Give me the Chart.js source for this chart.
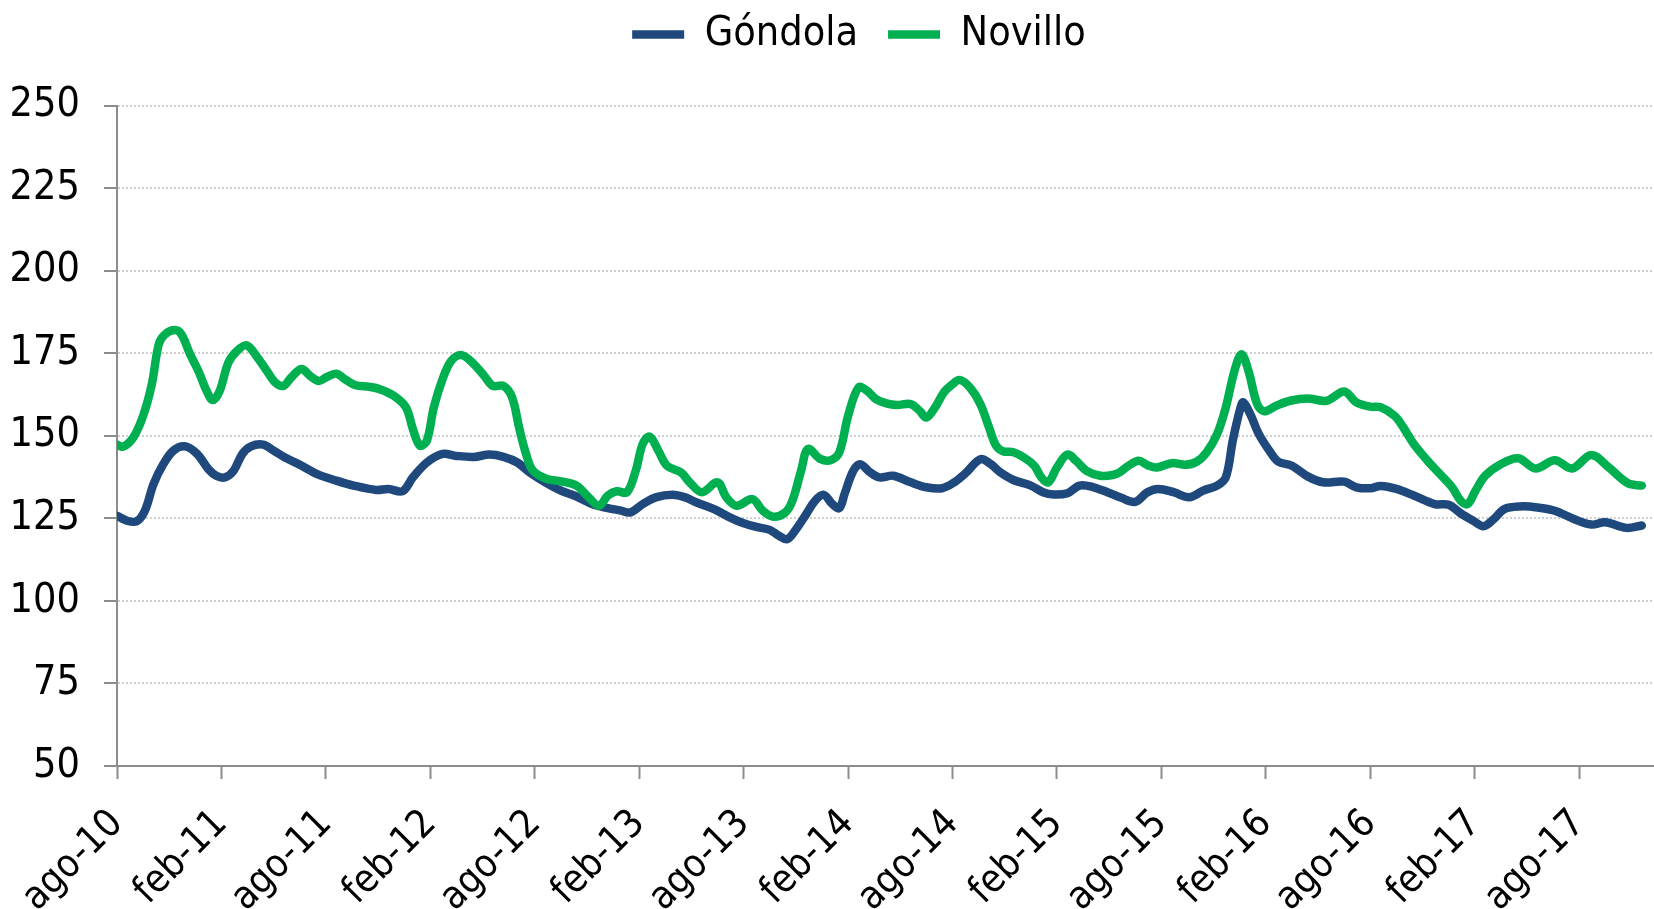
<!DOCTYPE html>
<html>
<head>
<meta charset="utf-8">
<script src="https://cdn.jsdelivr.net/npm/chart.js@4/dist/chart.umd.min.js"></script>
<style>
  html, body { margin: 0; padding: 0; background: #fff; }
  #wrap { width: 1654px; height: 909px; position: relative; }
</style>
</head>
<body>
<div id="wrap"><canvas id="chart"></canvas></div>
<script>
// meses desde ago-10 (0 = ago-10)
const gondolaMes = [0, 0.56, 1.13, 1.6, 2.1, 2.66, 3.24, 3.9, 4.6, 5.25, 5.7, 6.2, 6.7, 7.2, 7.7, 8.4, 9.0, 9.65, 10.5, 11.5, 12.6, 13.6, 14.9, 15.6, 16.4, 17.0, 17.8, 18.7, 19.5, 20.5, 21.4, 22.2, 23.0, 23.7, 24.6, 25.5, 26.4, 27.4, 28.2, 28.9, 29.5, 30.2, 31.0, 31.9, 32.6, 33.3, 34.3, 35.2, 36.0, 36.8, 37.5, 38.0, 38.5, 38.96, 39.6, 40.1, 40.6, 41.1, 41.5, 41.8, 42.3, 42.7, 43.2, 43.8, 44.6, 45.6, 46.5, 47.4, 48.1, 48.8, 49.6, 50.2, 50.7, 51.5, 52.5, 53.2, 53.8, 54.6, 55.3, 56.1, 56.9, 57.7, 58.5, 59.2, 59.8, 60.7, 61.6, 62.4, 63.2, 63.7, 64.1, 64.5, 64.7, 65.1, 65.6, 66.2, 66.7, 67.5, 68.4, 69.3, 70.5, 71.2, 72.0, 72.6, 73.5, 74.5, 75.7, 76.5, 77.2, 77.9, 78.5, 79.1, 79.7, 80.6, 81.6, 82.6, 83.7, 84.7, 85.5, 86.7, 87.6];
const gondola = [125.8, 124.3, 124.1, 127.3, 135.4, 141.4, 145.5, 146.8, 144.5, 139.9, 137.9, 137.4, 139.4, 144.5, 146.8, 147.3, 145.5, 143.4, 141.2, 138.4, 136.4, 134.9, 133.6, 133.9, 133.2, 137.4, 141.9, 144.5, 143.9, 143.6, 144.3, 143.6, 141.9, 138.9, 135.9, 133.4, 131.6, 129.1, 128.1, 127.4, 126.8, 129.3, 131.4, 132.1, 131.4, 129.8, 127.8, 125.3, 123.5, 122.3, 121.5, 119.8, 118.7, 121.3, 126.3, 130.3, 132.1, 129.3, 128.1, 132.4, 139.4, 141.4, 139.2, 137.4, 137.9, 135.9, 134.4, 134.1, 135.9, 138.9, 142.9, 141.4, 139.1, 136.6, 134.9, 132.9, 132.2, 132.6, 134.9, 134.4, 132.9, 131.2, 130.0, 132.9, 133.9, 132.9, 131.4, 133.4, 134.9, 137.4, 148.5, 157.6, 160.1, 156.6, 150.5, 145.5, 142.2, 140.9, 137.7, 135.9, 136.1, 134.4, 134.1, 134.8, 133.9, 131.9, 129.3, 129.1, 126.5, 124.3, 122.6, 124.8, 127.8, 128.6, 128.3, 127.3, 124.8, 123.1, 123.8, 122.1, 122.8];

const novilloMes = [0, 0.36, 0.94, 1.5, 2.0, 2.4, 2.76, 3.33, 3.7, 4.2, 4.67, 5.15, 5.5, 5.9, 6.4, 6.9, 7.45, 8.0, 8.6, 9.1, 9.56, 10.0, 10.6, 11.1, 11.6, 12.05, 12.6, 13.1, 13.7, 14.5, 15.1, 15.9, 16.6, 17.0, 17.4, 17.8, 18.2, 18.7, 19.2, 19.8, 20.5, 21.1, 21.6, 22.2, 22.7, 23.1, 23.5, 23.9, 24.7, 25.5, 26.4, 27.1, 27.7, 28.2, 28.7, 29.3, 29.8, 30.2, 30.6, 31.1, 31.6, 32.4, 32.9, 33.6, 34.5, 35.0, 35.6, 36.5, 37.1, 37.7, 38.4, 38.8, 39.3, 39.7, 40.4, 41.0, 41.5, 42.0, 42.6, 43.1, 43.6, 44.2, 44.8, 45.6, 46.1, 46.5, 47.0, 47.5, 48.0, 48.4, 49.0, 49.6, 50.1, 50.5, 50.9, 51.5, 52.1, 52.7, 53.1, 53.5, 54.0, 54.6, 55.1, 55.7, 56.5, 57.2, 57.6, 58.1, 58.7, 59.2, 59.75, 60.6, 61.4, 62.05, 62.6, 63.2, 63.7, 64.2, 64.6, 65.0, 65.5, 65.9, 66.6, 67.4, 68.4, 69.5, 70.5, 71.2, 72.0, 72.6, 73.4, 73.9, 74.5, 75.3, 76.04, 76.7, 77.2, 77.6, 78.05, 78.6, 79.5, 80.5, 81.5, 82.6, 83.6, 84.7, 85.7, 86.8, 87.6];
const novillo = [147.3, 146.7, 149.5, 156, 165.6, 177.7, 180.7, 182, 180.7, 174.7, 169.7, 163.6, 160.8, 163.6, 172.2, 175.7, 177.4, 174.2, 169.7, 166.1, 165.1, 167.6, 170.2, 168.1, 166.6, 167.8, 168.8, 167.1, 165.3, 164.8, 164.1, 162.1, 158.6, 152, 147, 148.5, 158.6, 167.1, 172.7, 174.4, 171.7, 168.1, 165.1, 165.1, 161.6, 152.5, 144.5, 139.4, 136.9, 136.2, 134.9, 131.3, 128.8, 131.9, 133.2, 132.9, 139.4, 147.5, 149.7, 145.5, 140.9, 138.9, 135.9, 132.9, 135.9, 131.4, 128.8, 130.8, 127.3, 125.5, 126.8, 130.3, 139.4, 146, 143, 142.6, 145, 156, 164.6, 163.6, 161.1, 159.8, 159.3, 159.6, 157.6, 155.5, 158.6, 163.1, 165.6, 166.9, 164.6, 159.6, 152.5, 147, 145.3, 145, 143.4, 140.9, 137.4, 135.9, 140.4, 144.3, 142.4, 139.4, 137.9, 138.1, 138.9, 140.9, 142.4, 141.1, 140.4, 141.7, 141.2, 142.2, 145, 150.5, 158.6, 169.7, 174.7, 169.7, 159.6, 157.4, 159.1, 160.6, 161.3, 160.6, 163.4, 160.1, 158.8, 158.6, 156, 152.5, 147.5, 142.4, 138.2, 134.4, 130.3, 129.3, 133.4, 137.9, 141.4, 143.2, 140.1, 142.6, 140.1, 144.2, 140.4, 135.6, 134.9];

const etiquetasX = ['ago-10', 'feb-11', 'ago-11', 'feb-12', 'ago-12', 'feb-13', 'ago-13', 'feb-14', 'ago-14', 'feb-15', 'ago-15', 'feb-16', 'ago-16', 'feb-17', 'ago-17'];
const ticksY = [50, 75, 100, 125, 150, 175, 200, 225, 250];

const pts = (xs, ys) => xs.map((x, i) => ({ x: x, y: ys[i] }));

Chart.defaults.font.family = "'DejaVu Sans Condensed', 'DejaVu Sans', sans-serif";
Chart.defaults.color = '#000';

// alto fijo de la leyenda y pequeño desplazamiento al dibujarla
const legendBox = {
  id: 'legendBox',
  beforeInit(chart) {
    const lg = chart.legend;
    const fit = lg.fit;
    lg.fit = function () {
      fit.call(this);
      this.height = 105.5;
    };
    const draw = lg.draw;
    lg.draw = function () {
      this.ctx.save();
      this.ctx.translate(32, -16);
      draw.apply(this, arguments);
      this.ctx.restore();
    };
  }
};

const ctx = document.getElementById('chart').getContext('2d');
new Chart(ctx, {
  type: 'line',
  data: {
    datasets: [{
      label: 'Góndola',
      data: pts(gondolaMes, gondola),
      borderColor: '#1f497d',
      backgroundColor: '#1f497d',
      borderWidth: 8.5,
      borderCapStyle: 'round',
      borderJoinStyle: 'round',
      pointRadius: 0,
      tension: 0.35,
      order: 1
    }, {
      label: 'Novillo',
      data: pts(novilloMes, novillo),
      borderColor: '#00b050',
      backgroundColor: '#00b050',
      borderWidth: 8.5,
      borderCapStyle: 'round',
      borderJoinStyle: 'round',
      pointRadius: 0,
      tension: 0.35,
      order: 0
    }]
  },
  options: {
    responsive: true,
    maintainAspectRatio: false,
    animation: false,
    layout: { padding: 0 },
    plugins: {
      tooltip: { enabled: false },
      legend: {
        position: 'top',
        align: 'center',
        labels: {
          usePointStyle: true,
          pointStyle: 'line',
          pointStyleWidth: 52,
          padding: 30,
          font: { size: 41, lineHeight: 1 },
          sort: (a, b) => a.datasetIndex - b.datasetIndex
        }
      }
    },
    scales: {
      x: {
        type: 'linear',
        min: 0,
        max: 88.3,
        afterBuildTicks(scale) {
          scale.ticks = etiquetasX.map((_, i) => ({ value: i * 6 }));
        },
        afterFit(scale) { scale.height = 143; },
        grid: {
          drawOnChartArea: false,
          drawTicks: true,
          tickLength: 13,
          tickColor: '#8c8c8c',
          tickWidth: 2
        },
        border: { color: '#8c8c8c', width: 2 },
        ticks: {
          autoSkip: false,
          minRotation: 45,
          maxRotation: 45,
          padding: 22,
          font: { size: 39 },
          callback: v => etiquetasX[Math.round(v / 6)]
        }
      },
      y: {
        min: 50,
        max: 250,
        afterBuildTicks(scale) {
          scale.ticks = ticksY.map(v => ({ value: v }));
        },
        afterFit(scale) { scale.width = 117; },
        grid: {
          color: '#cfcfcf',
          lineWidth: 2,
          tickLength: 13,
          tickColor: '#8c8c8c',
          tickWidth: 2
        },
        border: { color: '#8c8c8c', width: 2, dash: [2, 2] },
        ticks: {
          padding: 24,
          font: { size: 41 }
        }
      }
    }
  },
  plugins: [legendBox]
});
</script>
</body>
</html>
